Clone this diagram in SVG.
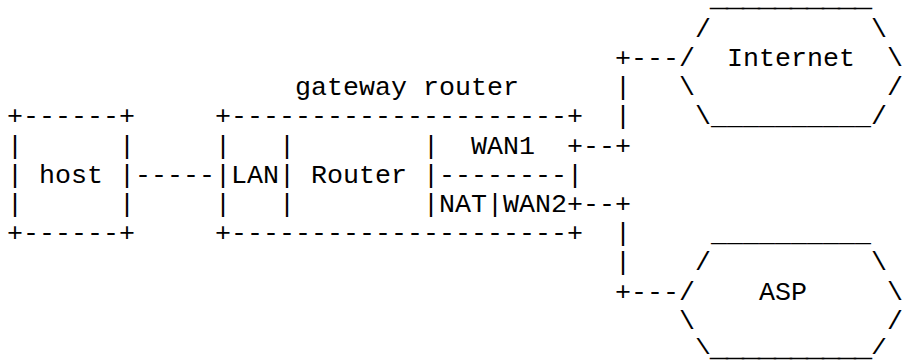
<svg xmlns="http://www.w3.org/2000/svg" width="906" height="361" viewBox="0 0 906 361">
<style>
text { font-family: "Liberation Mono", "Courier New", monospace; font-size: 26.667px; fill: #000; white-space: pre; }
text.edge { font-size: 10px; stroke: #000; stroke-width: 0.9px; }
</style>
<rect width="906" height="361" fill="#fff"/>
<g id="host" xml:space="preserve">
<text x="7" y="124.4">+------+</text>
<text x="7" y="153.6">|      |</text>
<text x="7" y="182.8">| host |</text>
<text x="7" y="212">|      |</text>
<text x="7" y="241.2">+------+</text>
</g>
<g id="gateway-router" xml:space="preserve">
<text x="295" y="95.2">gateway router</text>
<text x="215" y="124.4">+---------------------+</text>
<text x="215" y="153.6">|   |        |  WAN1  +</text>
<text x="215" y="182.8">|LAN| Router |--------|</text>
<text x="215" y="212">|   |        |NAT|WAN2+</text>
<text x="215" y="241.2">+---------------------+</text>
</g>
<g id="internet" xml:space="preserve">
<text class="edge" x="711" y="8.4" textLength="160" lengthAdjust="spacingAndGlyphs">__________</text>
<text x="695" y="36.8">/          \</text>
<text x="679" y="66">/  Internet  \</text>
<text x="679" y="95.2">\            /</text>
<text x="695" y="124.4">\__________/</text>
</g>
<g id="asp" xml:space="preserve">
<text x="711" y="241.2">__________</text>
<text x="695" y="270.4">/          \</text>
<text x="679" y="299.6">/    ASP     \</text>
<text x="679" y="328.8">\            /</text>
<text transform="translate(695,354.4) scale(1,0.83)">\</text>
<text class="edge" x="711" y="358" textLength="160" lengthAdjust="spacingAndGlyphs">__________</text>
<text transform="translate(871,354.4) scale(1,0.83)">/</text>
</g>
<g id="connectors" xml:space="preserve">
<text x="135" y="182.8">-----</text>
<text x="583" y="153.6">--+</text>
<text x="583" y="212">--+</text>
<text x="615" y="66">+---</text>
<text x="615" y="95.2">|</text>
<text x="615" y="124.4">|</text>
<text x="615" y="241.2">|</text>
<text x="615" y="270.4">|</text>
<text x="615" y="299.6">+---</text>
</g>
</svg>
